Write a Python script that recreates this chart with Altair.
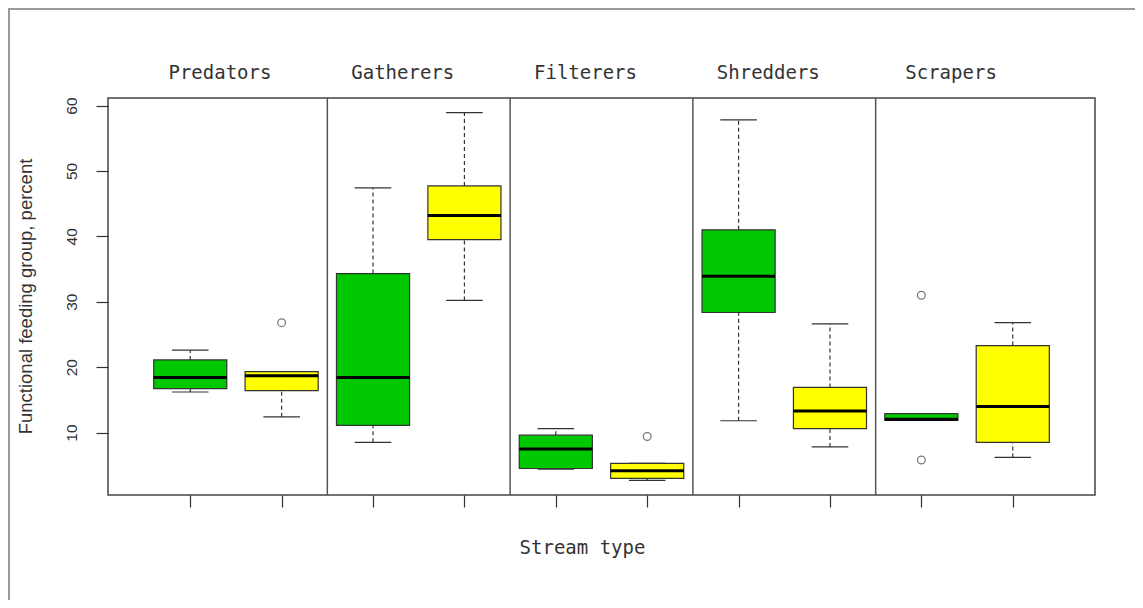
import altair as alt
import pandas as pd

# ---- data ----
groups = ["Predators", "Gatherers", "Filterers", "Shredders", "Scrapers"]
stream_types = ["Stream type 1", "Stream type 2"]
whisker_low = [16.2, 12.4, 8.5, 30.2, 4.4, 2.7, 11.8, 7.8, 11.85, 6.2]
q1 = [16.7, 16.4, 11.1, 39.5, 4.5, 3.0, 28.35, 10.6, 11.85, 8.5]
median = [18.4, 18.7, 18.4, 43.2, 7.5, 4.15, 33.9, 13.3, 12.05, 14.0]
q3 = [21.1, 19.3, 34.3, 47.7, 9.6, 5.3, 41.0, 16.9, 12.9, 23.3]
whisker_high = [22.6, 19.3, 47.4, 58.9, 10.6, 5.3, 57.8, 26.6, 12.9, 26.8]
outlier_box = [2, 6, 9, 9]
outlier_value = [26.8, 9.4, 31.0, 5.8]
y_ticks = [10, 20, 30, 40, 50, 60]

GREEN = "#00C800"
YELLOW = "#FFFF00"
LINE = "#333333"

n = len(groups) * len(stream_types)
df = pd.DataFrame({
    "group": [g for g in groups for _ in stream_types],
    "type": stream_types * len(groups),
    "pos": list(range(1, n + 1)),
    "lo": whisker_low, "q1": q1, "med": median, "q3": q3, "hi": whisker_high,
})
out_df = pd.DataFrame({"pos": outlier_box, "value": outlier_value})
lab_df = pd.DataFrame({"group": groups, "idx": list(range(len(groups)))})
sep_df = pd.DataFrame({"idx": list(range(len(groups) - 1))})

xscale = alt.Scale(domain=[0.1, 10.9], nice=False, zero=False)
yscale = alt.Scale(domain=[0.45, 61.15], nice=False, zero=False)
xaxis = alt.Axis(values=list(range(1, n + 1)), labels=False, tickSize=12, domain=False,
                 grid=False, tickColor=LINE, tickWidth=1.2,
                 titleFont="DejaVu Sans Mono", titleFontSize=19, titleFontWeight="normal",
                 titleColor=LINE, titleX=474, titleY=58, titleAlign="center",
                 titleBaseline="alphabetic")
yaxis = alt.Axis(values=y_ticks, tickSize=12, domain=False, grid=False, tickColor=LINE,
                 tickWidth=1.2, labelAngle=270, labelAlign="center", labelBaseline="middle",
                 labelPadding=25, labelFont="Liberation Sans", labelFontSize=15.5,
                 labelColor=LINE, titleFont="Liberation Sans", titleFontSize=18.5,
                 titleFontWeight="normal", titleColor=LINE, titleX=-83, titleY=198,
                 titleAlign="center", titleBaseline="middle")


def X(f):
    return alt.X(f, type="quantitative", scale=xscale, axis=xaxis, title="Stream type")


def Y(f):
    return alt.Y(f, type="quantitative", scale=yscale, axis=yaxis,
                 title="Functional feeding group, percent")


color = alt.Color("type:N", scale=alt.Scale(domain=stream_types, range=[GREEN, YELLOW]),
                  legend=None)

base = alt.Chart(df)

separators = alt.Chart(sep_df).transform_calculate(sx="2*datum.idx + 2.5").mark_rule(
    color="#555555", strokeWidth=1.5).encode(x=X("sx"), y=alt.value(0), y2=alt.value(397))

whisk_lo = base.mark_rule(color=LINE, strokeWidth=1.2, strokeDash=[4, 3]).encode(
    x=X("pos"), y=Y("lo"), y2="q1")
whisk_hi = base.mark_rule(color=LINE, strokeWidth=1.2, strokeDash=[4, 3]).encode(
    x=X("pos"), y=Y("q3"), y2="hi")
cap_lo = base.transform_calculate(a="datum.pos - 0.2", b="datum.pos + 0.2").mark_rule(
    color=LINE, strokeWidth=1.2).encode(x=X("a"), x2="b", y=Y("lo"))
cap_hi = base.transform_calculate(a="datum.pos - 0.2", b="datum.pos + 0.2").mark_rule(
    color=LINE, strokeWidth=1.2).encode(x=X("a"), x2="b", y=Y("hi"))
boxes = base.transform_calculate(a="datum.pos - 0.4", b="datum.pos + 0.4").mark_bar(
    stroke=LINE, strokeWidth=1.2, opacity=1).encode(
    x=X("a"), x2="b", y=Y("q1"), y2="q3", color=color)
medians = base.transform_calculate(a="datum.pos - 0.4", b="datum.pos + 0.4").mark_rule(
    color="black", strokeWidth=3).encode(x=X("a"), x2="b", y=Y("med"))
outliers = alt.Chart(out_df).mark_point(shape="circle", size=60, filled=False,
                                        color="#444444", strokeWidth=1.3).encode(
    x=X("pos"), y=Y("value"))
labels = alt.Chart(lab_df).transform_calculate(lx="2*datum.idx + 1.5").mark_text(
    font="DejaVu Sans Mono", fontSize=19, color=LINE, baseline="alphabetic",
    align="center", dx=-16).encode(x=X("lx"), y=alt.value(-19), text="group:N")

one = alt.Chart(pd.DataFrame({"k": [0]}))
border_top = one.mark_rule(color="#9a9a9a", strokeWidth=2).encode(
    x=alt.value(-100), x2=alt.value(1040), y=alt.value(-89))
border_left = one.mark_rule(color="#9a9a9a", strokeWidth=2).encode(
    x=alt.value(-99), y=alt.value(-90), y2=alt.value(510))

chart = alt.layer(
    separators, whisk_lo, whisk_hi, cap_lo, cap_hi, boxes, medians, outliers, labels,
    border_top, border_left
).properties(
    width=987, height=397,
    background="white",
    autosize=alt.AutoSizeParams(type="none"),
    padding={"left": 100, "top": 90, "right": 40, "bottom": 105},
).configure_view(stroke="#444444", strokeWidth=1.5)

chart.save("out.html", embed_options={"renderer": "svg", "actions": False})
